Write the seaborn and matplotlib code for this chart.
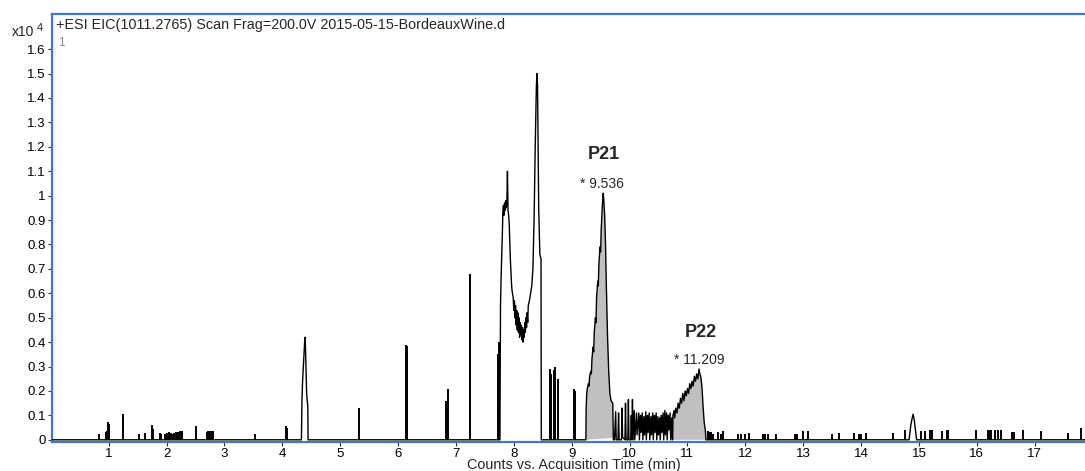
import numpy as np
import pandas as pd
import seaborn as sns
import matplotlib
matplotlib.use("Agg")
import matplotlib.pyplot as plt

# EIC trace, intensity in units of 1e4 counts, time in min
# continuous parts of the trace
peak44_t = [4.33, 4.34, 4.35, 4.37, 4.39, 4.40, 4.41, 4.42, 4.43, 4.44, 4.445]
peak44_y = [0.0, 0.17, 0.24, 0.33, 0.42, 0.38, 0.28, 0.19, 0.16, 0.14, 0.0]

cluster_t = [7.76, 7.77, 7.78, 7.795, 7.805, 7.81, 7.82, 7.83, 7.84, 7.85, 7.86, 7.87,
             7.88, 7.89, 7.90, 7.91, 7.92, 7.94, 7.96, 7.97, 7.99, 8.00, 8.01, 8.02,
             8.03, 8.04, 8.05, 8.06, 8.07, 8.08, 8.09, 8.10, 8.11, 8.12, 8.13, 8.14,
             8.15, 8.16, 8.17, 8.18, 8.19, 8.20, 8.21, 8.22, 8.23, 8.24, 8.25, 8.27,
             8.29, 8.31, 8.33, 8.35, 8.37, 8.39, 8.40, 8.41, 8.42, 8.43, 8.45, 8.47, 8.475]
cluster_y = [0.0, 0.55, 0.66, 0.78, 0.87, 0.93, 0.96, 0.92, 0.97, 0.94, 0.98, 0.95,
             0.97, 1.10, 0.94, 0.92, 0.89, 0.74, 0.64, 0.61, 0.58, 0.53, 0.57, 0.50,
             0.55, 0.47, 0.53, 0.45, 0.52, 0.44, 0.50, 0.42, 0.48, 0.43, 0.47, 0.41,
             0.46, 0.40, 0.45, 0.42, 0.48, 0.44, 0.50, 0.46, 0.52, 0.48, 0.55, 0.57,
             0.60, 0.63, 0.70, 0.90, 1.20, 1.45, 1.50, 1.45, 1.20, 0.95, 0.76, 0.74, 0.0]

p21_t = [9.245, 9.25, 9.26, 9.27, 9.29, 9.30, 9.31, 9.33, 9.34, 9.35, 9.37, 9.38, 9.39,
         9.41, 9.42, 9.43, 9.45, 9.46, 9.47, 9.49, 9.50, 9.51, 9.53, 9.545, 9.555,
         9.57, 9.585, 9.60, 9.62, 9.64, 9.66, 9.68, 9.71, 9.72]
p21_y = [0.0, 0.13, 0.19, 0.21, 0.23, 0.22, 0.26, 0.28, 0.27, 0.33, 0.38, 0.36, 0.44,
         0.50, 0.48, 0.58, 0.65, 0.63, 0.72, 0.79, 0.77, 0.86, 0.96, 1.01, 0.98,
         0.92, 0.80, 0.62, 0.42, 0.28, 0.19, 0.16, 0.15, 0.0]

noise_t = [9.74, 9.76, 9.77, 9.80, 9.81, 9.82, 9.86, 9.87, 9.88, 9.92, 9.93, 9.94,
           9.97, 9.98, 9.99, 10.02, 10.03, 10.04, 10.05, 10.06, 10.08, 10.09, 10.12,
           10.13, 10.16, 10.17, 10.19, 10.20, 10.22, 10.23, 10.25, 10.26, 10.28, 10.29,
           10.31, 10.32, 10.34, 10.35, 10.37, 10.38, 10.40, 10.41, 10.43, 10.44, 10.46,
           10.47, 10.49, 10.50, 10.52, 10.53, 10.55, 10.56, 10.58, 10.59, 10.61, 10.62,
           10.64, 10.65, 10.67, 10.68, 10.70, 10.71, 10.73, 10.74]
noise_y = [0.0, 0.115, 0.0, 0.0, 0.11, 0.0, 0.0, 0.13, 0.01, 0.0, 0.15, 0.0,
           0.0, 0.165, 0.0, 0.0, 0.10, 0.0, 0.165, 0.0, 0.12, 0.0, 0.11,
           0.02, 0.11, 0.0, 0.10, 0.03, 0.11, 0.0, 0.095, 0.02, 0.115, 0.0,
           0.10, 0.03, 0.11, 0.0, 0.095, 0.02, 0.11, 0.0, 0.10, 0.03, 0.11,
           0.0, 0.095, 0.02, 0.09, 0.0, 0.10, 0.03, 0.11, 0.0, 0.12, 0.02,
           0.11, 0.0, 0.10, 0.04, 0.11, 0.0, 0.09, 0.0]

p22_t = [10.745, 10.75, 10.77, 10.78, 10.80, 10.82, 10.84, 10.86, 10.88, 10.90, 10.92,
         10.94, 10.96, 10.98, 11.00, 11.02, 11.04, 11.06, 11.08, 11.10, 11.12, 11.14,
         11.16, 11.18, 11.20, 11.215, 11.23, 11.25, 11.27, 11.29, 11.31, 11.32]
p22_y = [0.0, 0.10, 0.12, 0.09, 0.13, 0.11, 0.15, 0.13, 0.17, 0.15, 0.19,
         0.16, 0.20, 0.18, 0.21, 0.19, 0.23, 0.21, 0.24, 0.22, 0.26, 0.24,
         0.27, 0.25, 0.29, 0.27, 0.26, 0.22, 0.14, 0.07, 0.04, 0.0]

peak149_t = [14.83, 14.86, 14.88, 14.90, 14.92, 14.94, 14.96]
peak149_y = [0.0, 0.06, 0.085, 0.105, 0.08, 0.04, 0.0]

# narrow single-scan spikes
spike_t = [0.83, 0.95, 0.97, 0.99, 1.00, 1.24, 1.25, 1.52, 1.62, 1.75, 1.77, 1.88, 1.91,
           1.98, 2.00, 2.04, 2.07, 2.10, 2.13, 2.16, 2.19, 2.23, 2.27, 2.50, 2.51, 2.69,
           2.72, 2.75, 2.79, 2.81, 3.52, 4.07, 4.08, 5.33, 6.14, 6.15, 6.82, 6.87, 7.24,
           7.25, 7.72, 7.74, 8.62, 8.65, 8.69, 8.72, 8.76, 9.04, 9.05, 11.36, 11.38,
           11.41, 11.44, 11.53, 11.58, 11.61, 11.87, 11.93, 11.99, 12.07, 12.30, 12.34,
           12.40, 12.53, 12.86, 12.89, 12.99, 13.09, 13.49, 13.62, 13.88, 13.97, 14.00,
           14.09, 14.56, 14.76, 15.03, 15.10, 15.20, 15.23, 15.40, 15.48, 15.50, 15.98,
           16.19, 16.22, 16.25, 16.31, 16.36, 16.41, 16.60, 16.64, 16.80, 17.11, 17.58, 17.80]
spike_y = [0.023, 0.03, 0.034, 0.072, 0.065, 0.104, 0.095, 0.022, 0.027, 0.062, 0.044, 0.028, 0.025,
           0.022, 0.026, 0.03, 0.028, 0.025, 0.027, 0.03, 0.03, 0.035, 0.034, 0.058, 0.035, 0.03,
           0.035, 0.036, 0.035, 0.034, 0.025, 0.058, 0.05, 0.13, 0.39, 0.385, 0.157, 0.21, 0.68,
           0.67, 0.35, 0.40, 0.29, 0.27, 0.285, 0.30, 0.25, 0.21, 0.20, 0.035, 0.03,
           0.03, 0.025, 0.03, 0.025, 0.037, 0.025, 0.022, 0.024, 0.027, 0.023, 0.022,
           0.022, 0.023, 0.023, 0.022, 0.037, 0.035, 0.023, 0.027, 0.027, 0.023, 0.022,
           0.027, 0.027, 0.041, 0.037, 0.037, 0.04, 0.04, 0.037, 0.04, 0.04, 0.04,
           0.04, 0.04, 0.04, 0.04, 0.04, 0.04, 0.03, 0.03, 0.04, 0.035, 0.027, 0.048]

p21_base_t = [9.245, 9.72]
p21_base_y = [0.0, 0.008]
p22_base_t = [10.745, 11.32]
p22_base_y = [0.0, 0.0]

x_ticks = list(range(1, 18))
y_ticks = [i / 10 for i in range(17)]
y_tick_labels = ["0", "0.1", "0.2", "0.3", "0.4", "0.5", "0.6", "0.7", "0.8", "0.9",
                 "1", "1.1", "1.2", "1.3", "1.4", "1.5", "1.6"]
t_start, t_end = 0.0, 17.9

sns.set_style("ticks")
plt.rcParams['font.family'] = ['Liberation Sans', 'DejaVu Sans']

trace = pd.DataFrame({
    't': [t_start] + peak44_t + cluster_t + p21_t + noise_t + p22_t + peak149_t + [t_end],
    'y': [0.0] + peak44_y + cluster_y + p21_y + noise_y + p22_y + peak149_y + [0.0],
})

fig = plt.figure(figsize=(10.85, 4.71), dpi=100)
ax = fig.add_axes([52 / 1085, 29.5 / 471, 1033 / 1085, 427.5 / 471])

# integrated peaks shaded grey
ax.fill(p21_t + p21_base_t[::-1], p21_y + p21_base_y[::-1], color='#c0c0c0', lw=0, zorder=1)
ax.fill(p22_t + p22_base_t[::-1], p22_y + p22_base_y[::-1], color='#c0c0c0', lw=0, zorder=1)

sns.lineplot(data=trace, x='t', y='y', sort=False, estimator=None, color='black',
             lw=1.0, ax=ax, zorder=3)
ax.vlines(spike_t, 0, spike_y, color='black', lw=1.4, zorder=3)

ax.set_xlim(0.02, 17.87)
ax.set_ylim(-0.007, 1.744)
ax.set_xticks(x_ticks)
ax.set_xticklabels([str(v) for v in x_ticks])
ax.set_yticks(y_ticks)
ax.set_yticklabels(y_tick_labels)
ax.set_xlabel("")
ax.set_ylabel("")
ax.tick_params(axis='both', direction='out', length=3, width=0.8, color='#333333',
               labelsize=9.5, pad=1.5, labelcolor='black')

for side in ['left', 'top', 'bottom']:
    ax.spines[side].set_color('#3d78d0')
    ax.spines[side].set_linewidth(1.6)
ax.spines['right'].set_visible(False)

ax.text(0.004, 0.974, "+ESI EIC(1011.2765) Scan Frag=200.0V 2015-05-15-BordeauxWine.d",
        transform=ax.transAxes, fontsize=10.4, ha='left', va='center')
ax.text(0.006, 0.933, "1", transform=ax.transAxes, fontsize=8.5, color='#888888',
        ha='left', va='center')

ax.text(9.56, 1.167, "P21", fontsize=13, fontweight='bold', ha='center', va='center')
ax.text(9.53, 1.048, "* 9.536", fontsize=10, ha='center', va='center')
ax.text(11.23, 0.44, "P22", fontsize=13, fontweight='bold', ha='center', va='center')
ax.text(11.21, 0.327, "* 11.209", fontsize=10, ha='center', va='center')

fig.text(12 / 1085, 1 - 32 / 471, "x10", fontsize=10, ha='left', va='center')
fig.text(37 / 1085, 1 - 28 / 471, "4", fontsize=8, ha='left', va='center')
fig.text(574 / 1085, 1 - 465 / 471, "Counts vs. Acquisition Time (min)", fontsize=10.4,
         ha='center', va='center')

fig.savefig("out.png", dpi=100)
